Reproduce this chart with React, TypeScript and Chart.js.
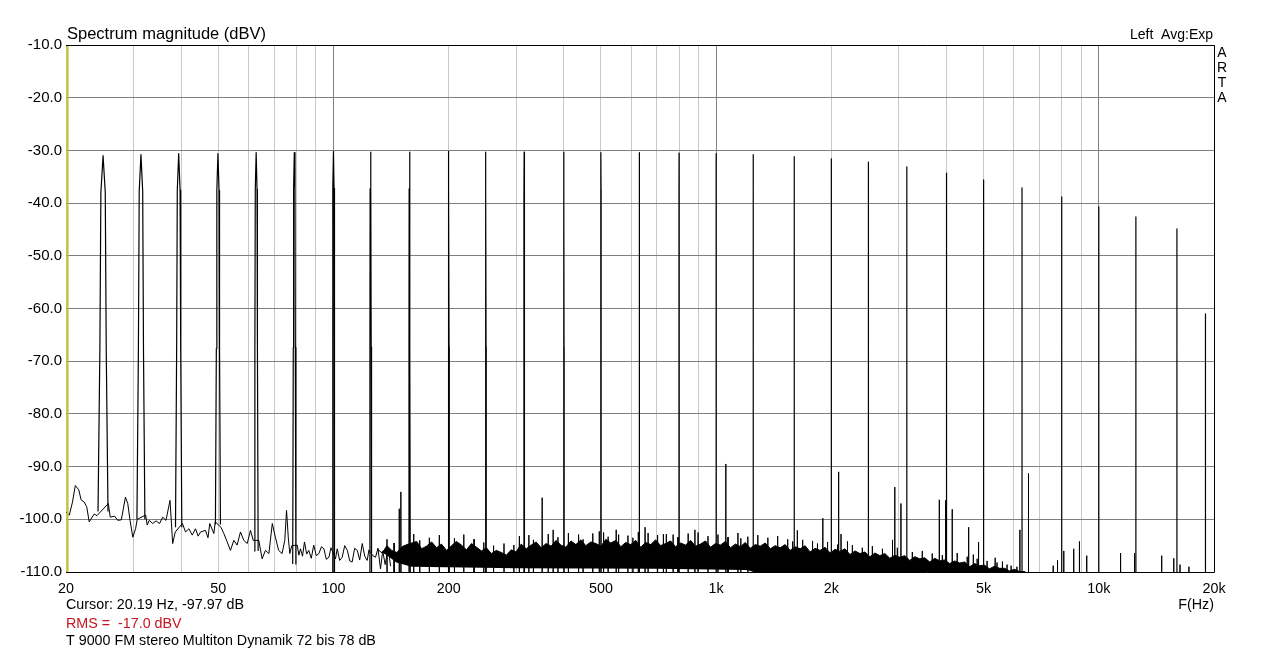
import React, { useEffect, useRef } from 'react';
import { Chart, registerables } from 'chart.js';

Chart.register(...registerables);

const FONT = '"Liberation Sans", Arial, Helvetica, sans-serif';

// ---------- texts ----------
const titleText = 'Spectrum magnitude (dBV)';
const channelText = 'Left  Avg:Exp';
const brandLetters = ['A', 'R', 'T', 'A'];
const cursorText = 'Cursor: 20.19 Hz, -97.97 dB';
const rmsText = 'RMS =  -17.0 dBV';
const captionText = 'T 9000 FM stereo Multiton Dynamik 72 bis 78 dB';
const xAxisTitle = 'F(Hz)';
const cursorFreq = 20.19;

// ---------- axes ----------
const xTickValues = [20, 30, 40, 50, 60, 70, 80, 90, 100, 200, 300, 400, 500, 600, 700, 800, 900,
  1000, 2000, 3000, 4000, 5000, 6000, 7000, 8000, 9000, 10000, 20000];
const xLabelValues = [20, 50, 100, 200, 500, 1000, 2000, 5000, 10000, 20000];
const xLabelTexts = ['20', '50', '100', '200', '500', '1k', '2k', '5k', '10k', '20k'];
const majorGridValues = [100, 1000, 10000];
const yMin = -110;
const yMax = -10;
const yStep = 10;

// ---------- multitone peaks ----------
const peakFreqs = [25, 31.4, 39.4, 49.9, 62.8, 79, 100, 125, 158, 200, 250, 315, 400, 500, 630, 800,
  1000, 1250, 1600, 2000, 2500, 3150, 4000, 5000, 6300, 8000, 10000, 12500, 16000, 19000];
const peakLevels = [-31.0, -30.8, -30.6, -30.6, -30.4, -30.4, -30.2, -30.3, -30.3, -30.2, -30.3, -30.3,
  -30.3, -30.4, -30.4, -30.5, -30.6, -30.8, -31.2, -31.6, -32.2, -33.1, -34.3, -35.6, -37.1, -38.8,
  -40.7, -42.6, -44.9, -61.0];
const peakBases = [-98.5, -100, -101.5, -101, -106, -108.5, -111, -111, -111, -111, -111, -111, -111,
  -111, -111, -111, -111, -111, -111, -111, -111, -111, -111, -111, -111, -111, -111, -111, -111, -111];
// shape of a tone line: offset from centre in Hz, drop below the top in dB
const peakShapeOffsets = [0.75, 0.48, 0.33];
const peakShapeDrops = [999, 37, 7];

// ---------- distortion / intermodulation lines ----------
const spikeFreqs = [148.5, 150, 351, 375, 495, 548, 652, 741, 880, 1060, 1160, 1630, 1900, 2090, 2120,
  2890, 2930, 3040, 3830, 3980, 4140, 4570, 4700, 4850, 5360, 5600, 5900, 6220, 6550, 7600, 7800, 8100,
  8600, 8900, 9300, 11400, 12400, 14600, 15700, 16300, 17200];
const spikeLevels = [-98.0, -94.8, -95.9, -102.0, -102.3, -102.0, -101.5, -102.8, -102.0, -89.5, -103.6,
  -102.1, -99.8, -91.0, -102.8, -103.9, -93.9, -97.0, -96.3, -96.4, -98.1, -101.5, -106.7, -104.3, -107.3,
  -108.0, -108.8, -102.0, -91.3, -108.8, -107.8, -106.0, -105.6, -104.2, -106.9, -106.4, -106.4, -106.9,
  -107.4, -108.6, -109.0];

// ---------- small noise needles poking out of the dense band (Hz, dBV) ----------
const noiseNeedles: [number, number][] = [
  [138, -103.8], [144, -104.5], [162, -102.8], [168, -104.0], [178, -103.5], [189, -103.0], [207, -103.6],
  [219, -102.9], [233, -103.8], [247, -104.4], [262, -105.0], [279, -104.6], [296, -104.9], [306, -103.2],
  [324, -103.0], [333, -103.9], [364, -102.8], [386, -103.4], [411, -102.6], [437, -102.9], [449, -103.8],
  [476, -102.7], [508, -102.5], [522, -103.3], [556, -102.9], [588, -103.1], [606, -103.5], [626, -102.4],
  [664, -102.6], [703, -103.0], [728, -102.8], [772, -102.9], [795, -103.4], [845, -102.7], [897, -102.5],
  [952, -103.2], [1011, -102.9], [1074, -103.4], [1140, -102.6], [1210, -103.3], [1285, -103.0],
  [1365, -103.5], [1448, -103.2], [1538, -103.8], [1585, -104.2], [1683, -103.9], [1786, -104.1],
  [1840, -104.6], [1955, -104.3], [2076, -104.8], [2204, -104.2], [2270, -104.9], [2410, -105.4],
  [2560, -105.1], [2720, -105.6], [2975, -105.4], [3256, -106.2], [3457, -106.0], [3670, -106.5],
  [3900, -106.8], [4265, -106.4], [4530, -107.1], [4809, -107.5], [5105, -107.9], [5420, -108.2],
  [5757, -108.6], [6110, -109.0],
];

// ---------- low-frequency noise floor (Hz, dBV) ----------
const noiseLow: [number, number][] = [
  [20.0, -98.6], [20.4, -99.2], [20.8, -96.7], [21.15, -93.6], [21.6, -94.4], [21.9, -96.3], [22.3, -96.7],
  [22.65, -97.6], [23.0, -100.5], [23.4, -99.6], [23.7, -99.0], [24.1, -99.3], [25.8, -97.0], [26.1, -99.6],
  [26.8, -99.4], [27.3, -100.2], [27.9, -100.1], [28.6, -95.8], [29.0, -97.0], [29.4, -100.2], [29.9, -103.4],
  [30.4, -101.8], [30.7, -100.0], [32.3, -99.2], [32.6, -101.1], [33.0, -100.2], [33.7, -100.8], [34.4, -100.3],
  [35.1, -100.8], [35.8, -99.6], [36.5, -100.2], [37.4, -96.4], [38.0, -104.6], [38.6, -102.4], [40.3, -100.8],
  [41.06, -102.4], [41.9, -101.8], [42.75, -103.0], [43.6, -101.8], [44.3, -103.2], [44.95, -102.4],
  [46.3, -102.1], [47.0, -103.5], [47.5, -100.8], [48.7, -102.7], [49.1, -100.5], [50.8, -101.5],
  [51.7, -102.7], [52.75, -104.3], [53.8, -105.9], [54.9, -104.0], [56.0, -104.9], [57.15, -102.4],
  [58.3, -104.0], [59.5, -104.6], [60.7, -102.1], [61.7, -104.0], [63.8, -104.0], [65.1, -107.5],
  [66.4, -105.9], [67.8, -106.5], [69.2, -100.8], [70.5, -103.4], [71.9, -105.9], [73.4, -106.5],
  [74.6, -104.0], [75.4, -98.3], [76.2, -103.5], [76.9, -106.5], [77.8, -105.0], [80.4, -104.9],
  [81.2, -106.8], [82.0, -105.6], [83.0, -107.0], [84.0, -104.3], [85.1, -106.6], [86.2, -105.9],
  [87.5, -107.4], [88.8, -104.9], [90.2, -106.9], [91.6, -106.5], [93.0, -105.2], [94.4, -105.6],
  [95.8, -107.6], [97.3, -107.2], [98.5, -105.4], [101.2, -107.5], [102.3, -105.6], [103.8, -107.8],
  [105.4, -107.2], [107.0, -105.0], [108.7, -105.9], [110.3, -107.9], [111.9, -108.1], [113.6, -105.5],
  [115.4, -105.9], [117.1, -107.7], [118.9, -104.6], [120.7, -107.0], [122.5, -107.8], [123.8, -105.8],
  [126.7, -106.9], [128.8, -107.2], [130.7, -105.5], [132.7, -109.4], [134.5, -106.0], [136.5, -108.6],
  [139.0, -105.4], [141.0, -108.9],
];

// ---------- dense noise band: upper edge (Hz, dBV) ----------
const bandTop: [number, number][] = [
  [130, -105.6], [134, -106.4], [138, -105.0], [142, -105.9], [146.5, -106.3], [151, -105.2], [155.5, -104.8],
  [165, -104.2], [170, -105.6], [175, -105.1], [180.5, -104.3], [186, -105.4], [191.5, -104.7], [197.5, -105.9],
  [203.5, -105.0], [209.5, -104.2], [216, -104.9], [222.5, -105.8], [229.5, -104.6], [236.5, -105.3],
  [243.5, -106.0], [251, -105.4], [258.5, -106.5], [266.5, -105.9], [274.5, -106.3], [283, -106.8],
  [291.5, -105.8], [300, -106.2], [309.5, -104.7], [319, -105.6], [328.5, -104.9], [338.5, -104.3],
  [349, -105.4], [359.5, -104.6], [370.5, -105.1], [381.5, -104.0], [393, -104.9], [405, -105.3],
  [417.5, -104.1], [430, -104.8], [443, -103.9], [456.5, -105.0], [470.5, -104.3], [485, -104.6],
  [500, -105.1], [515, -103.8], [530.5, -104.5], [547, -104.0], [563.5, -105.2], [580.5, -104.4],
  [598, -104.8], [616.5, -104.0], [635, -105.3], [654.5, -104.4], [674.5, -104.8], [695, -103.9],
  [716, -105.0], [738, -104.6], [760.5, -104.1], [783.5, -105.2], [807.5, -104.5], [832, -104.9],
  [857.5, -104.0], [883.5, -105.1], [910, -104.7], [938, -104.1], [966.5, -105.3], [996, -104.6],
  [1026, -104.9], [1057, -104.2], [1090, -105.4], [1123, -104.7], [1157, -105.2], [1192, -104.4],
  [1228, -105.5], [1266, -104.8], [1304, -105.1], [1344, -104.5], [1385, -105.6], [1427, -105.0],
  [1470, -105.4], [1515, -104.8], [1561, -105.9], [1609, -105.2], [1658, -105.6], [1708, -105.0],
  [1760, -106.2], [1814, -105.5], [1869, -105.9], [1926, -105.3], [1985, -106.4], [2045, -105.7],
  [2107, -106.1], [2171, -105.6], [2237, -106.7], [2306, -106.0], [2376, -106.5], [2448, -106.2],
  [2523, -107.1], [2600, -106.4], [2679, -106.9], [2760, -106.5], [2844, -107.4], [2931, -106.8],
  [3020, -107.2], [3112, -106.9], [3207, -107.8], [3305, -107.1], [3405, -107.5], [3509, -107.3],
  [3616, -108.1], [3726, -107.4], [3839, -107.9], [3956, -107.7], [4077, -108.4], [4201, -107.9],
  [4329, -108.3], [4461, -108.1], [4597, -109.0], [4737, -108.4], [4881, -108.8], [5030, -108.7],
  [5183, -109.4], [5341, -108.9], [5503, -109.3], [5671, -109.3], [5843, -109.8], [6021, -109.5],
  [6205, -109.9], [6394, -109.9], [6589, -110.5],
];
// lower edge of the dense band
const bandBottom: [number, number][] = [
  [130, -105.8], [138, -106.8], [146, -108.2], [160, -109.0], [300, -109.3], [700, -109.4], [1200, -109.6],
  [1350, -110.6], [6600, -110.6],
];

type Pt = { x: number; y: number | null };

function buildPeakPoints(): Pt[] {
  const pts: Pt[] = [];
  peakFreqs.forEach((f, i) => {
    const top = peakLevels[i];
    const base = peakBases[i];
    const side = peakShapeOffsets.map((off, k) => ({ off, y: Math.max(top - peakShapeDrops[k], base) }));
    side.forEach((s) => pts.push({ x: f - s.off, y: s.y }));
    pts.push({ x: f, y: top });
    side.slice().reverse().forEach((s) => pts.push({ x: f + s.off, y: s.y }));
    pts.push({ x: f + 0.8, y: null });
  });
  return pts;
}

function buildNeedlePoints(list: [number, number][]): Pt[] {
  const pts: Pt[] = [];
  list.forEach(([f, level]) => {
    pts.push({ x: f - 0.15, y: -111 }, { x: f, y: level }, { x: f + 0.15, y: -111 }, { x: f + 0.2, y: null });
  });
  return pts;
}

const toPts = (arr: [number, number][]): Pt[] => arr.map(([x, y]) => ({ x, y }));

const overlayPlugin = {
  id: 'artaOverlay',
  afterDatasetsDraw(chart: any) {
    const { ctx, chartArea: a, scales } = chart;
    ctx.save();
    const cx = scales.x.getPixelForValue(cursorFreq);
    ctx.strokeStyle = '#c4c41c';
    ctx.lineWidth = 2;
    ctx.beginPath();
    ctx.moveTo(cx, a.top);
    ctx.lineTo(cx, a.bottom);
    ctx.stroke();
    ctx.strokeStyle = '#000';
    ctx.lineWidth = 1;
    ctx.beginPath();
    ctx.moveTo(a.left, a.top + 0.5);
    ctx.lineTo(a.right + 0.5, a.top + 0.5);
    ctx.lineTo(a.right + 0.5, a.bottom + 0.5);
    ctx.lineTo(a.left, a.bottom + 0.5);
    ctx.stroke();
    ctx.restore();
  },
  afterDraw(chart: any) {
    const { ctx, chartArea: a } = chart;
    ctx.save();
    ctx.fillStyle = '#000';
    ctx.textBaseline = 'alphabetic';
    ctx.font = `16.5px ${FONT}`;
    ctx.textAlign = 'left';
    ctx.fillText(titleText, a.left + 1, a.top - 6);
    ctx.font = `14px ${FONT}`;
    ctx.textAlign = 'right';
    ctx.fillText(channelText, a.right - 1, a.top - 6);
    ctx.textAlign = 'center';
    brandLetters.forEach((ch, i) => ctx.fillText(ch, a.right + 8, a.top + 12 + i * 15));
    ctx.font = `14.3px ${FONT}`;
    ctx.textAlign = 'left';
    ctx.fillText(cursorText, a.left, a.bottom + 37);
    ctx.textAlign = 'right';
    ctx.fillText(xAxisTitle, a.right, a.bottom + 37);
    ctx.textAlign = 'left';
    ctx.fillStyle = '#c8141e';
    ctx.fillText(rmsText, a.left, a.bottom + 56);
    ctx.fillStyle = '#000';
    ctx.fillText(captionText, a.left, a.bottom + 73);
    ctx.restore();
  },
};

export default function App() {
  const canvasRef = useRef<HTMLCanvasElement | null>(null);

  useEffect(() => {
    const canvas = canvasRef.current;
    if (!canvas) return;
    const lineBase = { borderWidth: 1, borderColor: '#000', pointRadius: 0, fill: false, spanGaps: false };
    const chart = new Chart(canvas, {
      type: 'line',
      data: {
        datasets: [
          {
            label: 'band bottom',
            data: toPts(bandBottom) as any,
            borderWidth: 0,
            borderColor: 'rgba(0,0,0,0)',
            pointRadius: 0,
            fill: false,
          },
          {
            label: 'band',
            data: toPts(bandTop) as any,
            borderWidth: 1,
            borderColor: '#000',
            backgroundColor: '#000',
            pointRadius: 0,
            fill: { target: 0 },
          },
          { label: 'noise', data: toPts(noiseLow) as any, ...lineBase },
          { label: 'needles', data: buildNeedlePoints(noiseNeedles) as any, ...lineBase },
          {
            label: 'spikes',
            data: buildNeedlePoints(spikeFreqs.map((f, i) => [f, spikeLevels[i]] as [number, number])) as any,
            ...lineBase,
          },
          { label: 'tones', data: buildPeakPoints() as any, ...lineBase, borderWidth: 1.2 },
        ],
      },
      options: {
        responsive: false,
        animation: false,
        devicePixelRatio: 1,
        events: [],
        parsing: false as any,
        normalized: true,
        layout: { padding: { left: 0, right: 66, top: 45, bottom: 0 } },
        plugins: {
          legend: { display: false },
          tooltip: { enabled: false },
          title: { display: false },
        },
        elements: {
          point: { radius: 0 },
          line: { tension: 0, borderJoinStyle: 'round', borderCapStyle: 'butt' },
        },
        scales: {
          x: {
            type: 'logarithmic',
            position: 'bottom',
            min: 20,
            max: 20000,
            afterBuildTicks: (s: any) => {
              s.ticks = xTickValues.map((v) => ({ value: v }));
            },
            afterFit: (s: any) => {
              s.height = 81;
            },
            ticks: {
              autoSkip: false,
              maxRotation: 0,
              minRotation: 0,
              padding: 8,
              color: '#000',
              font: { family: FONT, size: 14.3 },
              callback: (v: any) => {
                const i = xLabelValues.indexOf(Number(v));
                return i >= 0 ? xLabelTexts[i] : '';
              },
            },
            grid: {
              drawTicks: false,
              lineWidth: 1,
              color: (c: any) => (c.tick && majorGridValues.includes(c.tick.value) ? '#808080' : '#c8c8c8'),
            },
            border: { display: false },
          },
          y: {
            type: 'linear',
            min: yMin,
            max: yMax,
            afterFit: (s: any) => {
              s.width = 66;
            },
            ticks: {
              stepSize: yStep,
              padding: 4,
              color: '#000',
              font: { family: FONT, size: 15 },
              callback: (v: any) => Number(v).toFixed(1),
            },
            grid: { drawTicks: false, color: '#808080', lineWidth: 1 },
            border: { display: false },
          },
        },
      },
      plugins: [overlayPlugin],
    } as any);
    return () => chart.destroy();
  }, []);

  return (
    <div style={{ position: 'absolute', left: 0, top: 0, width: 1280, height: 653, background: '#fff' }}>
      <canvas ref={canvasRef} width={1280} height={653} style={{ display: 'block' }} />
    </div>
  );
}
